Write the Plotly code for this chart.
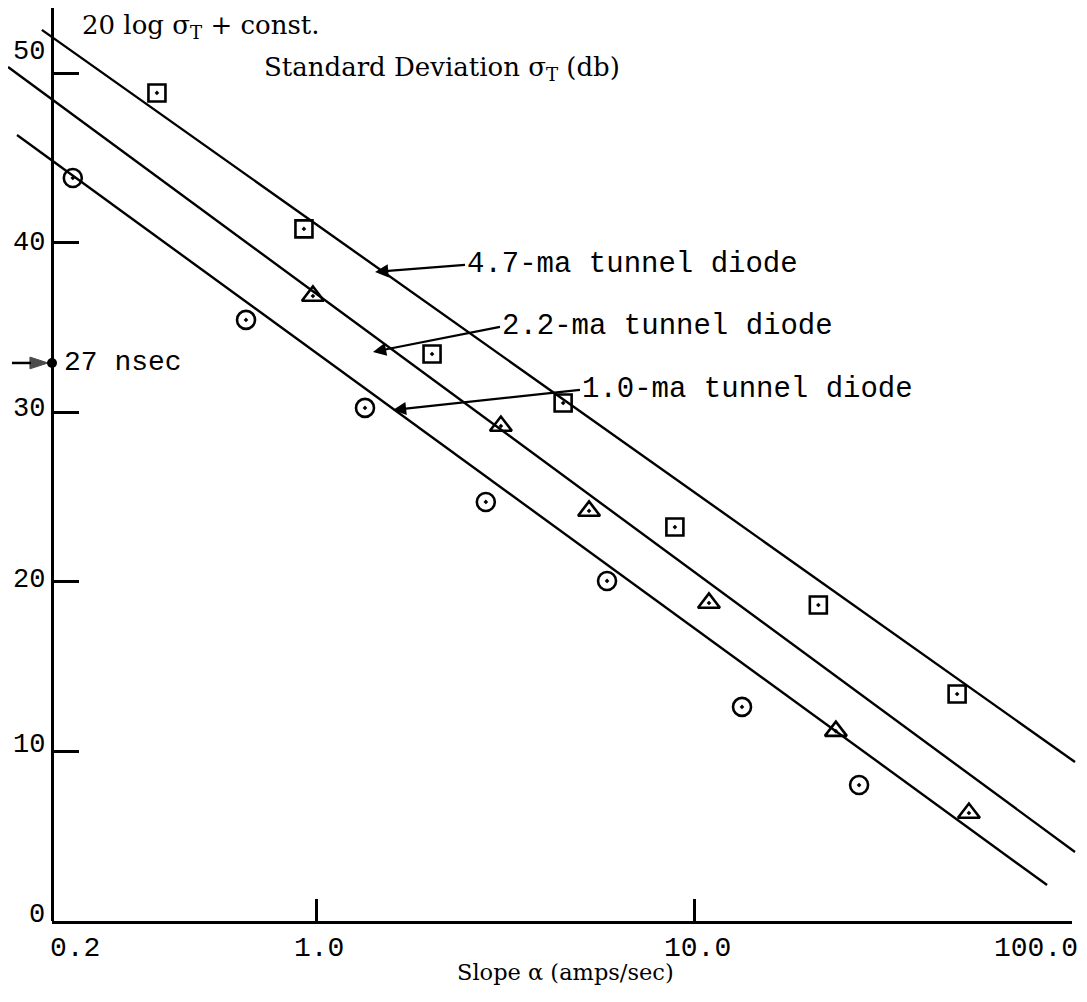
import math
import plotly.graph_objects as go

# ---------------- data ----------------
x_tick_vals = [0.2, 1.0, 10.0, 100.0]
x_tick_text = ["0.2", "1.0", "10.0", "100.0"]
y_tick_vals = [0, 10, 20, 30, 40, 50]
y_tick_text = ["0", "10", "20", "30", "40", "50"]

# 4.7-ma tunnel diode (squares)
sq_x = [0.379, 0.928, 2.025, 4.50, 8.89, 21.3, 49.6]
sq_y = [48.85, 40.83, 33.45, 30.56, 23.24, 18.64, 13.39]
# 2.2-ma tunnel diode (triangles)
tri_x = [0.98, 3.08, 5.27, 10.94, 23.7, 53.3]
tri_y = [36.87, 29.2, 24.19, 18.76, 11.2, 6.37]
# 1.0-ma tunnel diode (circles)
cir_x = [0.227, 0.652, 1.346, 2.81, 5.88, 13.38, 27.3]
cir_y = [43.83, 35.46, 30.27, 24.72, 20.06, 12.63, 8.02]

# fitted straight lines (end points)
fit47_x = [0.188, 101.7]
fit47_y = [52.57, 9.38]
fit22_x = [0.153, 101.7]
fit22_y = [50.38, 4.07]
fit10_x = [0.1616, 85.8]
fit10_y = [46.37, 2.12]

# line labels and where their arrows point
label_text = ["4.7-ma tunnel diode", "2.2-ma tunnel diode", "1.0-ma tunnel diode"]
label_tip_x = [1.431, 1.413, 1.596]
label_tip_y = [38.29, 33.57, 30.15]

nsec_x = 0.2
nsec_y = 32.92
nsec_arrow_from = 0.1567
nsec_text = "27 nsec"

# ---------------- styling ----------------
MONO = "Liberation Mono, Courier New, monospace"
SERIF = "DejaVu Serif, Liberation Serif, serif"
BLACK = "black"

# the page body adds an 8 px offset, so the figure is 8 px smaller
W, H = 1079, 994
ML, MR, MT, MB = 0, 7, 0, 81
PW = W - ML - MR
PH = H - MT - MB
XR = [-0.8154, 2.0206]
YR = [0, 53.86]


def frac(v):
    return (math.log10(v) - XR[0]) / (XR[1] - XR[0])


def px_x(sx):  # screen px -> paper fraction
    return (sx - 8 - ML) / PW


def px_y(sy):
    return (H - MB + 8 - sy) / PH


fig = go.Figure()

line_style = dict(color=BLACK, width=2.4)
for fx, fy in [(fit47_x, fit47_y), (fit22_x, fit22_y), (fit10_x, fit10_y)]:
    fig.add_trace(go.Scatter(x=fx, y=fy, mode="lines", line=line_style,
                             showlegend=False, hoverinfo="skip"))

mk_line = dict(color=BLACK, width=2.6)
fig.add_trace(go.Scatter(x=sq_x, y=sq_y, mode="markers", cliponaxis=False,
                         marker=dict(symbol="square-open-dot", size=17, color=BLACK, line=mk_line),
                         showlegend=False))
fig.add_trace(go.Scatter(x=tri_x, y=tri_y, mode="markers", cliponaxis=False,
                         marker=dict(symbol="triangle-up-open-dot", size=19, color=BLACK, line=mk_line),
                         showlegend=False))
fig.add_trace(go.Scatter(x=cir_x, y=cir_y, mode="markers", cliponaxis=False,
                         marker=dict(symbol="circle-open-dot", size=18, color=BLACK, line=mk_line),
                         showlegend=False))

# 27 nsec arrow and dot on the axis
fig.add_trace(go.Scatter(x=[nsec_arrow_from, nsec_x], y=[nsec_y, nsec_y], mode="lines+markers",
                         cliponaxis=False, line=dict(color=BLACK, width=2.5),
                         marker=dict(symbol="arrow", size=[0, 19], angleref="previous",
                                     standoff=4, color=BLACK, line=dict(color=BLACK, width=1)),
                         showlegend=False, hoverinfo="skip"))
fig.add_trace(go.Scatter(x=[nsec_x], y=[nsec_y], mode="markers", cliponaxis=False,
                         marker=dict(symbol="circle", size=10, color=BLACK),
                         showlegend=False, hoverinfo="skip"))

# dummy trace to create the axis-drawing subplot
fig.add_trace(go.Scatter(x=x_tick_vals, y=[None] * len(x_tick_vals), xaxis="x2",
                         mode="markers", showlegend=False, hoverinfo="skip"))

annotations = []
tail = [(90, -7), (127, -25), (187, -20)]
for t, tx, ty, (ax, ay) in zip(label_text, label_tip_x, label_tip_y, tail):
    annotations.append(dict(x=math.log10(tx), y=ty, xref="x", yref="y", text=t,
                            showarrow=True, ax=ax, ay=ay, xanchor="left", yanchor="middle",
                            arrowhead=2, arrowsize=1.2, arrowwidth=2.2, arrowcolor=BLACK,
                            font=dict(family=MONO, size=29, color=BLACK)))

annotations.append(dict(x=math.log10(nsec_x), y=nsec_y, xref="x", yref="y", text=nsec_text,
                        showarrow=False, xanchor="left", yanchor="middle", xshift=10,
                        font=dict(family=MONO, size=28, color=BLACK)))

# x tick labels
shift = {"left": -4, "center": 3, "right": 8}
for v, t, anc in zip(x_tick_vals, x_tick_text, ["left", "center", "center", "right"]):
    annotations.append(dict(x=math.log10(v), y=0, xref="x", yref="y", text=t,
                            showarrow=False, xanchor=anc, yanchor="top", yshift=-10,
                            xshift=shift[anc],
                            font=dict(family=MONO, size=28, color=BLACK)))

# y tick labels (hand-lettered: slightly raised, the top one noticeably)
y_label_lift = [6, 6, 2, 3, 0, 21]
for v, t, lift in zip(y_tick_vals, y_tick_text, y_label_lift):
    annotations.append(dict(x=math.log10(0.2), y=v, xref="x", yref="y", text=t,
                            showarrow=False, xanchor="right", yanchor="middle",
                            xshift=-5, yshift=lift,
                            font=dict(family=MONO, size=27, color=BLACK)))

# titles
annotations.append(dict(x=px_x(80), y=1.0, xref="paper", yref="paper",
                        text="20 log σ<sub>T</sub> + const.", showarrow=False,
                        xanchor="left", yanchor="top",
                        font=dict(family=SERIF, size=26, color=BLACK)))
annotations.append(dict(x=px_x(262), y=px_y(50), xref="paper", yref="paper",
                        text="Standard Deviation σ<sub>T</sub> (db)", showarrow=False,
                        xanchor="left", yanchor="top",
                        font=dict(family=SERIF, size=26, color=BLACK)))
annotations.append(dict(x=px_x(565), y=px_y(972), xref="paper", yref="paper",
                        text="Slope α (amps/sec)", showarrow=False,
                        xanchor="center", yanchor="middle",
                        font=dict(family=SERIF, size=22.5, color=BLACK)))

fig.update_layout(
    width=W, height=H,
    margin=dict(l=ML, r=MR, t=MT, b=MB),
    paper_bgcolor="white", plot_bgcolor="rgba(0,0,0,0)",
    showlegend=False,
    xaxis=dict(type="log", range=XR, visible=False, domain=[0, 1]),
    xaxis2=dict(type="log", range=[math.log10(0.2), 2], anchor="y",
                domain=[frac(0.2), frac(100)],
                showline=True, linecolor=BLACK, linewidth=2.5,
                ticks="inside", ticklen=22, tickwidth=2.5, tickcolor=BLACK,
                tickvals=[1, 10, 100], showticklabels=False, showgrid=False, zeroline=False),
    yaxis=dict(range=YR, anchor="free", position=frac(0.2),
               showline=True, linecolor=BLACK, linewidth=2.5,
               ticks="inside", ticklen=25, tickwidth=2.5, tickcolor=BLACK,
               tickvals=y_tick_vals, showticklabels=False,
               showgrid=False, zeroline=False),
    annotations=annotations,
)

fig.write_html("out.html")
